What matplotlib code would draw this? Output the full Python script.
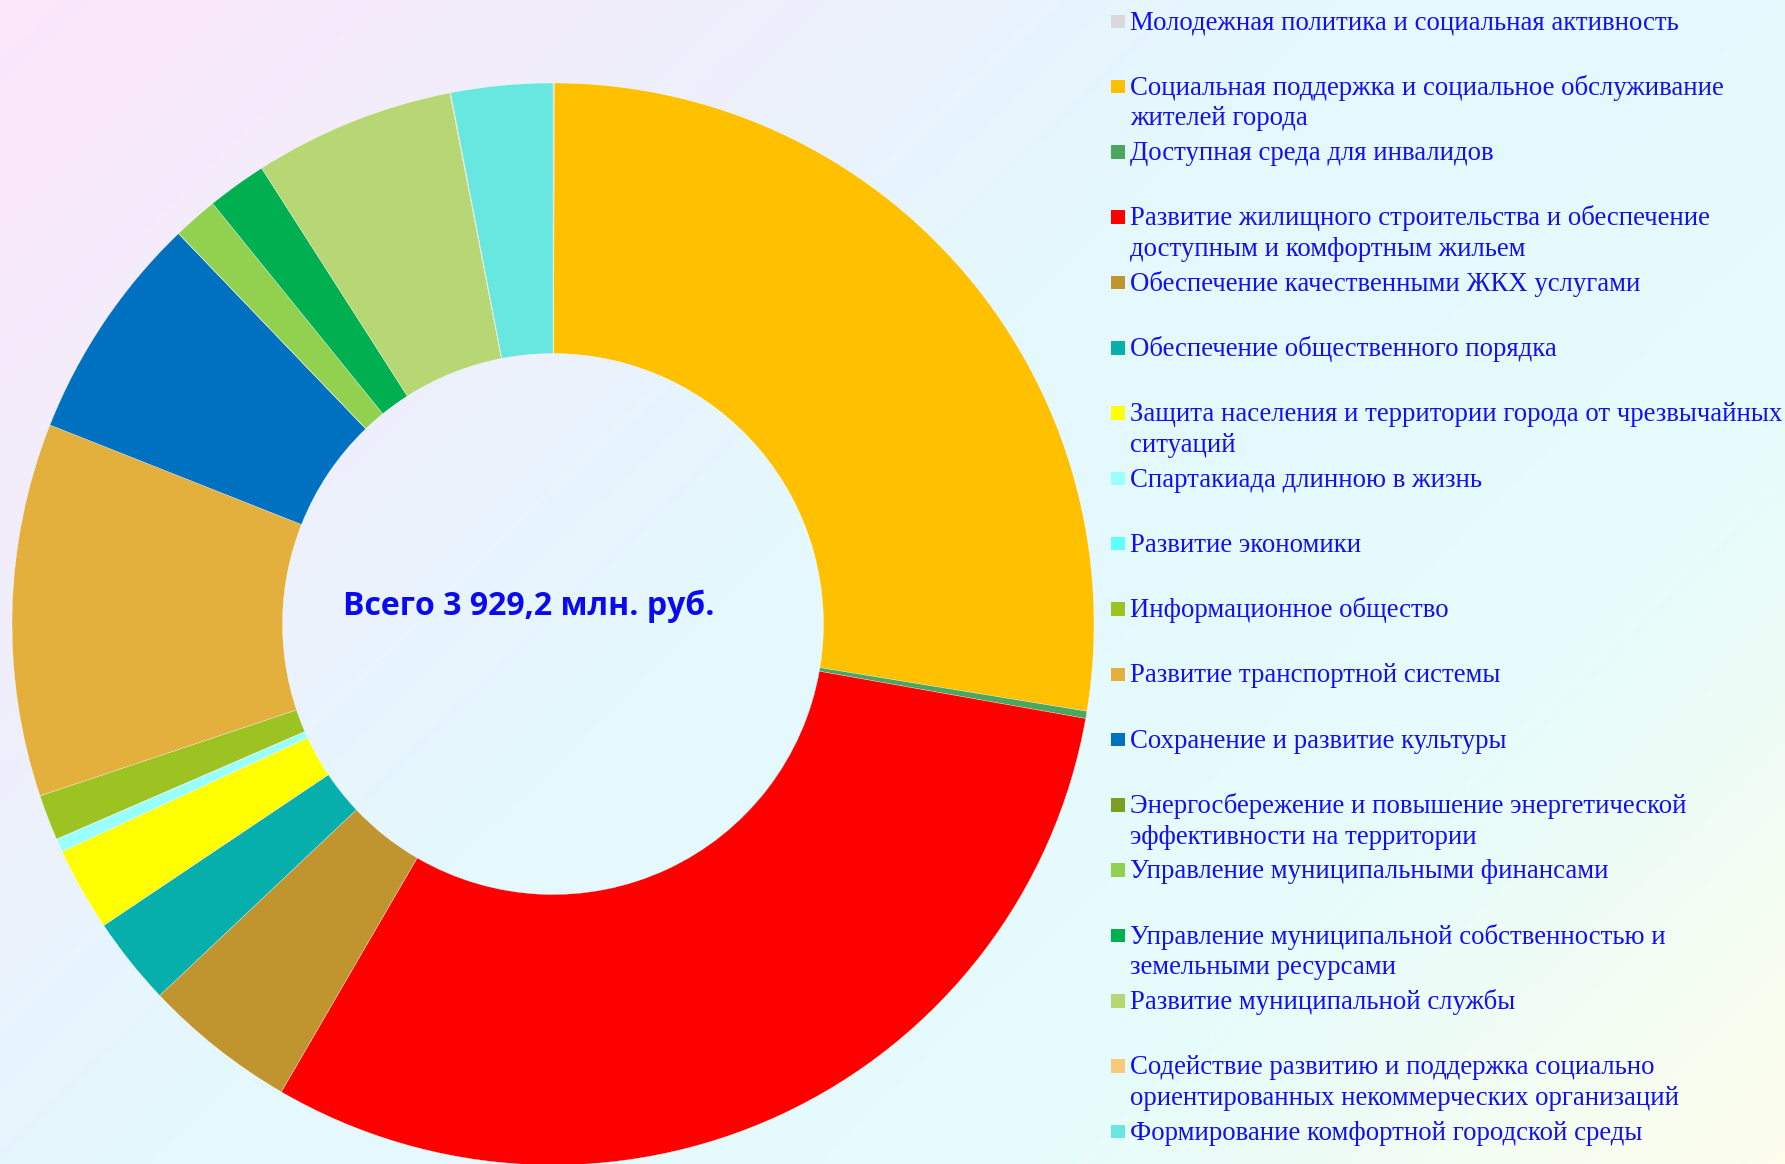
import numpy as np
import matplotlib
matplotlib.use("Agg")
import matplotlib.pyplot as plt
from matplotlib.colors import LinearSegmentedColormap

# программы, млн. руб. (оценка по диаграмме)
programs = [
    "Молодежная политика и социальная активность",
    "Социальная поддержка и социальное обслуживание\nжителей города",
    "Доступная среда для инвалидов",
    "Развитие жилищного строительства и обеспечение\nдоступным и комфортным жильем",
    "Обеспечение качественными ЖКХ услугами",
    "Обеспечение общественного порядка",
    "Защита населения и территории города от чрезвычайных\nситуаций",
    "Спартакиада длинною в жизнь",
    "Развитие экономики",
    "Информационное общество",
    "Развитие транспортной системы",
    "Сохранение и развитие культуры",
    "Энергосбережение и повышение энергетической\nэффективности на территории",
    "Управление муниципальными финансами",
    "Управление муниципальной собственностью и\nземельными ресурсами",
    "Развитие муниципальной службы",
    "Содействие развитию и поддержка социально\nориентированных некоммерческих организаций",
    "Формирование комфортной городской среды",
]
amounts = [1.6, 1082.0, 8.5, 1201.5, 180.0, 103.7, 98.2, 15.3, 0.5,
           53.5, 437.7, 268.5, 0.3, 52.4, 69.8, 235.7, 1.0, 119.0]
colors = ["#D9D9D9", "#FFC000", "#4CA65E", "#FF0000", "#C09530", "#06AFAB",
          "#FFFF00", "#99FFFF", "#5FFFFF", "#9DC323", "#E3B03E", "#0070C0",
          "#7A9E22", "#92D050", "#00B050", "#B7D774", "#F7C978", "#68E6E0"]
total_text = "Всего 3 929,2 млн. руб."

W, H = 1785, 1164
fig = plt.figure(figsize=(W / 100, H / 100), dpi=100)

# фон - диагональный градиент
bg = fig.add_axes([0, 0, 1, 1], zorder=-10)
bg_cmap = LinearSegmentedColormap.from_list(
    "bg", [(0.0, "#FCE6FA"), (0.45, "#E4F8FE"), (0.75, "#E6FCFC"), (1.0, "#FDFEEC")])
yy, xx = np.mgrid[0:1:200j, 0:1:300j]
bg.imshow((xx * 0.6 + yy * 0.4), cmap=bg_cmap, aspect="auto", extent=[0, 1, 0, 1],
          origin="upper", vmin=0, vmax=1)
bg.axis("off")

# кольцевая диаграмма
cx, cy, r = 553, 624, 541
ax = fig.add_axes([(cx - r) / W, (H - cy - r) / H, 2 * r / W, 2 * r / H])
ax.patch.set_alpha(0)
ax.pie(amounts, colors=colors, startangle=90, counterclock=False, radius=1,
       wedgeprops=dict(width=0.5, edgecolor="white", linewidth=0.2))
ax.set_xlim(-1, 1)
ax.set_ylim(-1, 1)
ax.set_aspect("equal")
ax.axis("off")

fig.text(529 / W, 1 - 615 / H, total_text, ha="center", va="baseline",
         fontsize=23, fontweight="bold", family=["Open Sans", "DejaVu Sans"], color="#0A0AF0")

# легенда
for i, (lab, col) in enumerate(zip(programs, colors)):
    yc = 21 + 65.3 * i
    fig.patches.append(plt.Rectangle((1111 / W, 1 - (yc + 7) / H), 14 / W, 13.5 / H,
                                     transform=fig.transFigure, facecolor=col,
                                     edgecolor="none"))
    for k, line in enumerate(lab.split("\n")):
        fig.text(1130 / W, 1 - (yc + 8.5 + 30.5 * k) / H, line, ha="left", va="baseline",
                 fontsize=19.3, family="Liberation Serif", color="#1010F0")

fig.savefig("out.png", dpi=100)
